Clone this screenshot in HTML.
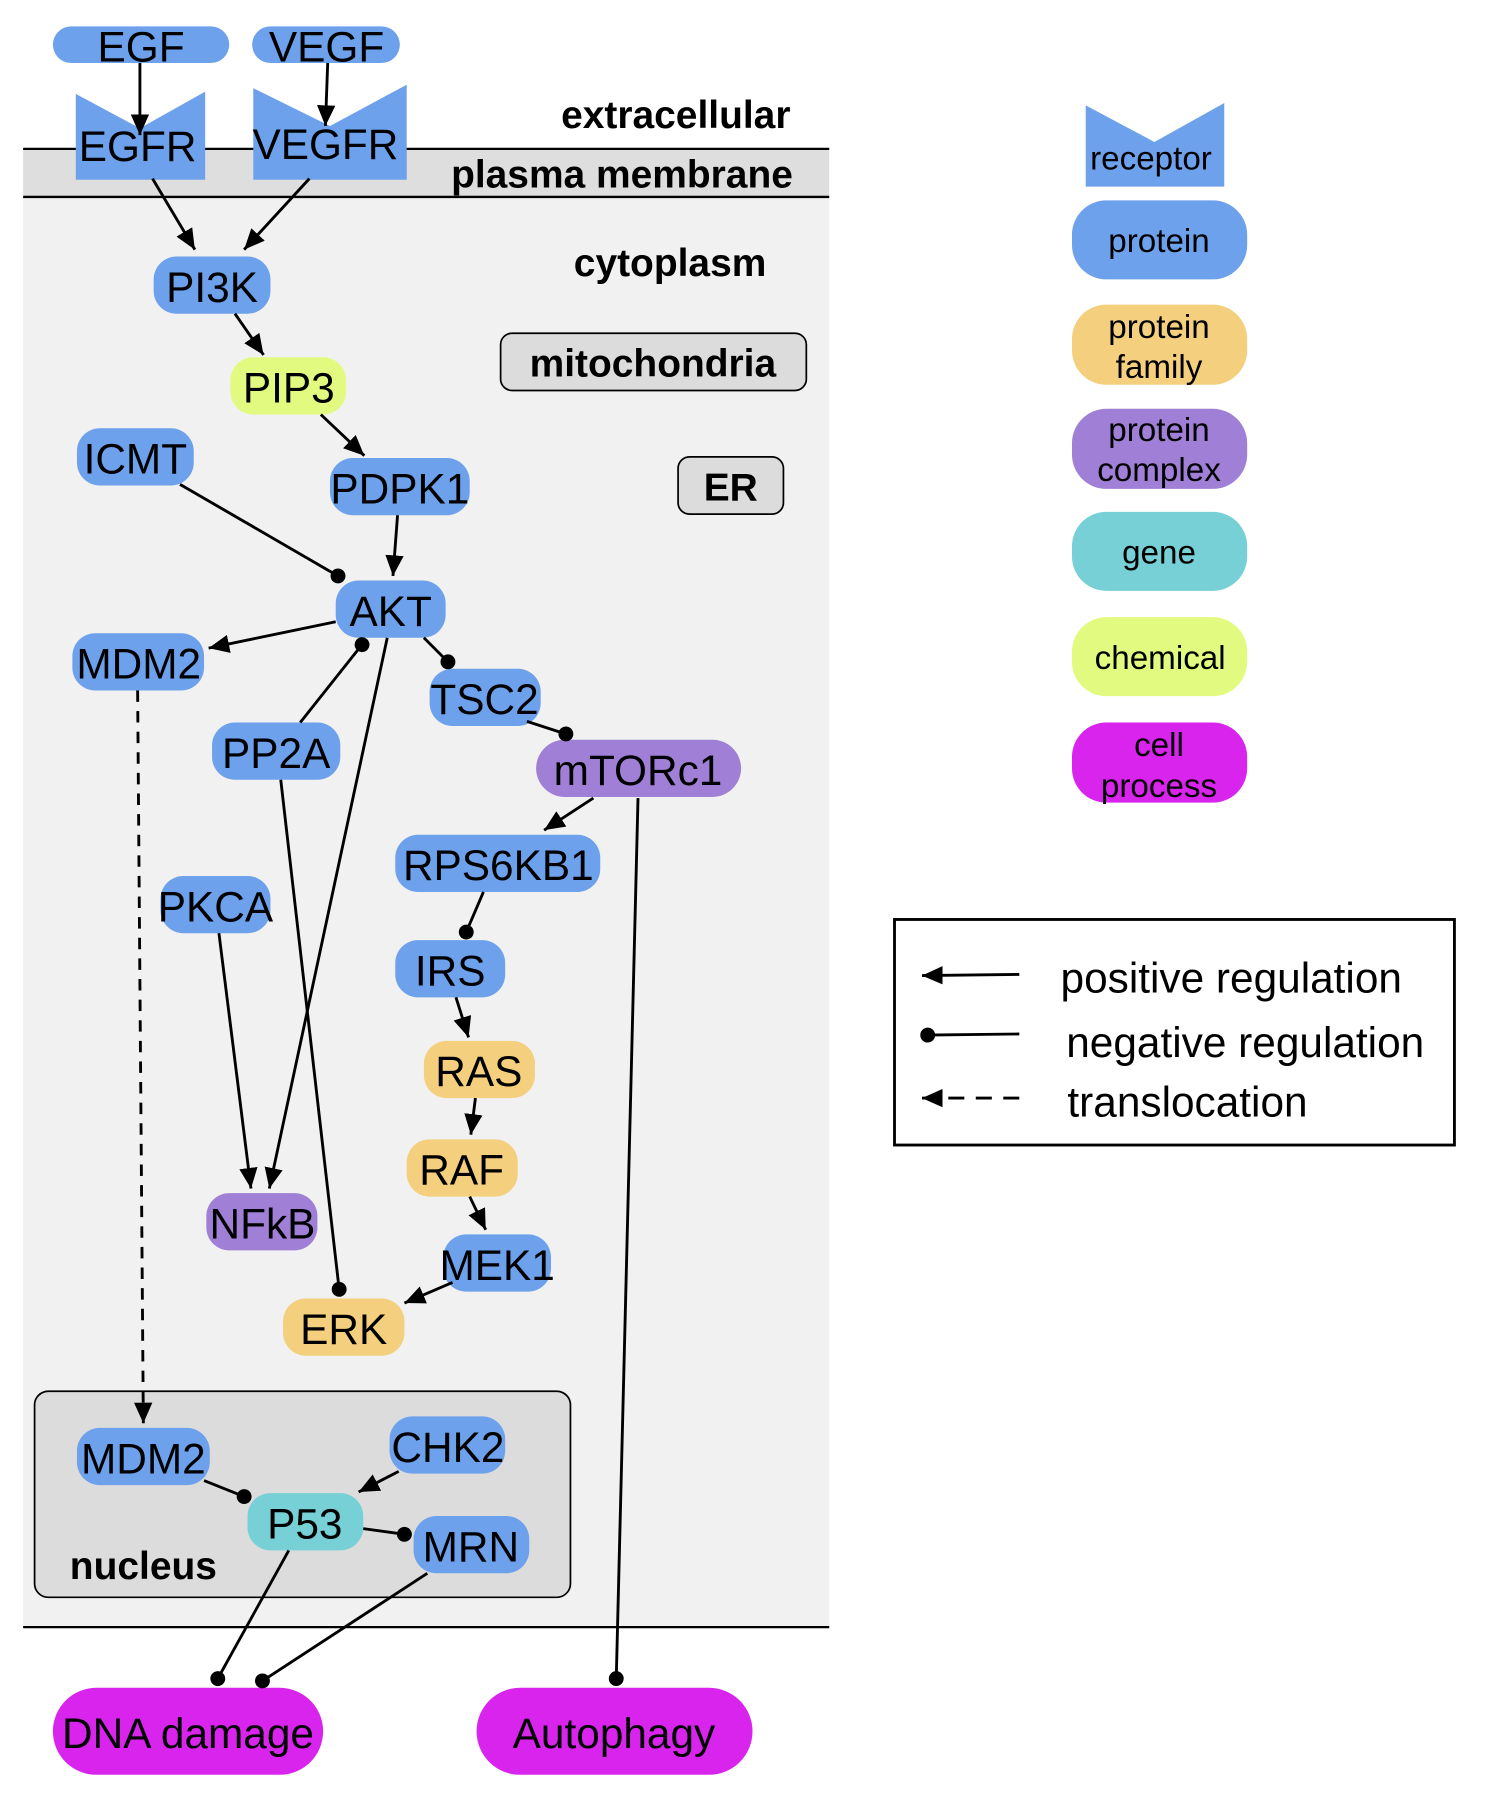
<!DOCTYPE html>
<html><head><meta charset="utf-8"><style>
html,body{margin:0;padding:0;background:#fff;}
svg{display:block;}
text{font-family:"Liberation Sans",Arial,sans-serif;fill:#000;}
.n{font-size:37px;text-anchor:middle;dominant-baseline:central;}
.b{font-size:34px;font-weight:bold;text-anchor:middle;dominant-baseline:central;}
.l{font-size:29px;text-anchor:middle;dominant-baseline:central;}
.e{stroke:#000;stroke-width:2.5;fill:none;}
</style></head><body>
<svg width="1489" height="1800" viewBox="0 0 1300 1572" xmlns="http://www.w3.org/2000/svg">
<defs>
<marker id="ar" markerUnits="userSpaceOnUse" markerWidth="20" markerHeight="16" refX="18" refY="8" orient="auto"><path d="M0,0 L18,8 L0,16 z" fill="#000"/></marker>
<marker id="ci" markerUnits="userSpaceOnUse" markerWidth="16" markerHeight="16" refX="8" refY="8" orient="auto"><circle cx="8" cy="8" r="6.5" fill="#000"/></marker>
</defs>
<rect x="20" y="172" width="704" height="1249" fill="#f0f1f0"/>
<rect x="20" y="130" width="704" height="42" fill="#dedede"/>
<line x1="20" y1="130" x2="724" y2="130" stroke="#000" stroke-width="2"/>
<line x1="20" y1="172" x2="724" y2="172" stroke="#000" stroke-width="2"/>
<line x1="20" y1="1421" x2="724" y2="1421" stroke="#000" stroke-width="2"/>
<text class="b" x="590" y="101">extracellular</text>
<text class="b" x="543" y="153">plasma membrane</text>
<text class="b" x="585" y="230">cytoplasm</text>
<rect x="437" y="291" width="267" height="50" rx="10" fill="#dcdcdc" stroke="#000" stroke-width="1.5"/>
<text class="b" x="570" y="318">mitochondria</text>
<rect x="592" y="399" width="92" height="50" rx="10" fill="#dcdcdc" stroke="#000" stroke-width="1.5"/>
<text class="b" x="638" y="426">ER</text>
<rect x="30" y="1215" width="468" height="180" rx="12" fill="#dcdcdc" stroke="#000" stroke-width="1.5"/>
<text class="b" x="125" y="1368">nucleus</text>

<g><polygon points="66,82 122,112 179,80 179,157 66,157" fill="#6ea1ec"/><text class="n" x="120" y="128">EGFR</text></g>
<g><polygon points="221,77 288,110 355,74 355,157 221,157" fill="#6ea1ec"/><text class="n" x="284" y="126">VEGFR</text></g>

<g fill="#6ea1ec">
<rect x="46" y="23" width="154" height="32" rx="16"/>
<rect x="220" y="23" width="129" height="32" rx="16"/>
<rect x="134" y="224" width="102" height="50" rx="20"/>
<rect x="67" y="374" width="102" height="50" rx="20"/>
<rect x="288" y="400" width="122" height="50" rx="20"/>
<rect x="293" y="507" width="96" height="50" rx="20"/>
<rect x="63" y="553" width="115" height="50" rx="20"/>
<rect x="375" y="584" width="97" height="50" rx="20"/>
<rect x="185" y="631" width="112" height="50" rx="20"/>
<rect x="345" y="729" width="179" height="50" rx="20"/>
<rect x="140" y="765" width="96" height="50" rx="20"/>
<rect x="345" y="821" width="96" height="50" rx="20"/>
<rect x="387" y="1078" width="94" height="50" rx="20"/>
<rect x="67" y="1247" width="116" height="50" rx="20"/>
<rect x="340" y="1237" width="101" height="50" rx="20"/>
<rect x="361" y="1324" width="101" height="50" rx="20"/>
</g>
<rect x="201" y="312" width="101" height="50" rx="20" fill="#e2fa80"/>
<rect x="468" y="646" width="179" height="50" rx="25" fill="#a07fd6"/>
<rect x="180" y="1042" width="97" height="50" rx="20" fill="#a07fd6"/>
<rect x="370" y="909" width="97" height="50" rx="20" fill="#f4d07e"/>
<rect x="355" y="995" width="97" height="50" rx="20" fill="#f4d07e"/>
<rect x="247" y="1134" width="106" height="50" rx="20" fill="#f4d07e"/>
<rect x="216" y="1304" width="101" height="50" rx="20" fill="#76d0d6"/>
<rect x="46" y="1474" width="236" height="76" rx="38" fill="#d824ec"/>
<rect x="416" y="1474" width="241" height="76" rx="38" fill="#d824ec"/>

<g>
<text class="n" x="123" y="41">EGF</text>
<text class="n" x="285" y="41">VEGF</text>
<text class="n" x="185" y="251">PI3K</text>
<text class="n" x="252" y="339">PIP3</text>
<text class="n" x="118" y="401">ICMT</text>
<text class="n" x="349" y="427">PDPK1</text>
<text class="n" x="341" y="534">AKT</text>
<text class="n" x="121" y="580">MDM2</text>
<text class="n" x="423" y="611">TSC2</text>
<text class="n" x="241" y="658">PP2A</text>
<text class="n" x="557" y="673">mTORc1</text>
<text class="n" x="435" y="756">RPS6KB1</text>
<text class="n" x="188" y="792">PKCA</text>
<text class="n" x="393" y="848">IRS</text>
<text class="n" x="418" y="936">RAS</text>
<text class="n" x="403" y="1022">RAF</text>
<text class="n" x="229" y="1069">NFkB</text>
<text class="n" x="434" y="1105">MEK1</text>
<text class="n" x="300" y="1161">ERK</text>
<text class="n" x="125" y="1274">MDM2</text>
<text class="n" x="391" y="1264">CHK2</text>
<text class="n" x="266" y="1331">P53</text>
<text class="n" x="411" y="1351">MRN</text>
<text class="n" x="164" y="1514">DNA damage</text>
<text class="n" x="536" y="1514">Autophagy</text>
</g>

<g class="e">
<line x1="122" y1="55" x2="122" y2="118" marker-end="url(#ar)"/>
<line x1="286" y1="55" x2="284" y2="110" marker-end="url(#ar)"/>
<line x1="133" y1="156" x2="170" y2="218" marker-end="url(#ar)"/>
<line x1="270" y1="156" x2="213" y2="218" marker-end="url(#ar)"/>
<line x1="205" y1="274" x2="230" y2="310" marker-end="url(#ar)"/>
<line x1="280" y1="362" x2="318" y2="398" marker-end="url(#ar)"/>
<line x1="347" y1="450" x2="343" y2="503" marker-end="url(#ar)"/>
<line x1="157" y1="423" x2="295" y2="503" marker-end="url(#ci)"/>
<line x1="293" y1="543" x2="182" y2="566" marker-end="url(#ar)"/>
<line x1="262" y1="631" x2="316" y2="563" marker-end="url(#ci)"/>
<line x1="338" y1="557" x2="235" y2="1038" marker-end="url(#ar)"/>
<line x1="370" y1="557" x2="391" y2="578" marker-end="url(#ci)"/>
<line x1="460" y1="630" x2="494" y2="641" marker-end="url(#ci)"/>
<line x1="518" y1="697" x2="475" y2="725" marker-end="url(#ar)"/>
<line x1="557" y1="697" x2="538" y2="1466" marker-end="url(#ci)"/>
<line x1="422" y1="779" x2="407" y2="814" marker-end="url(#ci)"/>
<line x1="398" y1="871" x2="409" y2="906" marker-end="url(#ar)"/>
<line x1="415" y1="959" x2="411" y2="991" marker-end="url(#ar)"/>
<line x1="410" y1="1045" x2="424" y2="1074" marker-end="url(#ar)"/>
<line x1="395" y1="1120" x2="353" y2="1138" marker-end="url(#ar)"/>
<line x1="191" y1="815" x2="219" y2="1038" marker-end="url(#ar)"/>
<line x1="245" y1="681" x2="296" y2="1126" marker-end="url(#ci)"/>
<line x1="120" y1="603" x2="125" y2="1243" stroke-dasharray="10,8" marker-end="url(#ar)"/>
<line x1="178" y1="1293" x2="213" y2="1307" marker-end="url(#ci)"/>
<line x1="348" y1="1285" x2="313" y2="1303" marker-end="url(#ar)"/>
<line x1="317" y1="1335" x2="353" y2="1340" marker-end="url(#ci)"/>
<line x1="252" y1="1354" x2="190" y2="1466" marker-end="url(#ci)"/>
<line x1="373" y1="1374" x2="229" y2="1468" marker-end="url(#ci)"/>
</g>

<g>
<polygon points="948,92 1008,124 1069,90 1069,163 948,163" fill="#6ea1ec"/>
<text class="l" x="1005" y="139">receptor</text>
<rect x="936" y="175" width="153" height="69" rx="30" fill="#6ea1ec"/><text class="l" x="1012" y="211">protein</text>
<rect x="936" y="266" width="153" height="70" rx="30" fill="#f4d07e"/><text class="l" x="1012" y="286">protein</text><text class="l" x="1012" y="321">family</text>
<rect x="936" y="357" width="153" height="70" rx="30" fill="#a07fd6"/><text class="l" x="1012" y="376">protein</text><text class="l" x="1012" y="411">complex</text>
<rect x="936" y="447" width="153" height="69" rx="30" fill="#76d0d6"/><text class="l" x="1012" y="483">gene</text>
<rect x="936" y="539" width="153" height="69" rx="30" fill="#e2fa80"/><text class="l" x="1013" y="575">chemical</text>
<rect x="936" y="631" width="153" height="70" rx="30" fill="#d824ec"/><text class="l" x="1012" y="651">cell</text><text class="l" x="1012" y="687">process</text>
</g>

<g>
<rect x="781" y="803" width="489" height="197" fill="#fff" stroke="#000" stroke-width="2.5"/>
<line class="e" x1="890" y1="851" x2="805" y2="852" marker-end="url(#ar)"/>
<line class="e" x1="890" y1="903" x2="810" y2="904" marker-end="url(#ci)"/>
<line class="e" x1="890" y1="959" x2="805" y2="959" stroke-dasharray="14,10" marker-end="url(#ar)"/>
<text x="926" y="867" style="font-size:37px">positive regulation</text>
<text x="931" y="923" style="font-size:37px">negative regulation</text>
<text x="932" y="975" style="font-size:37px">translocation</text>
</g>
</svg>
</body></html>
